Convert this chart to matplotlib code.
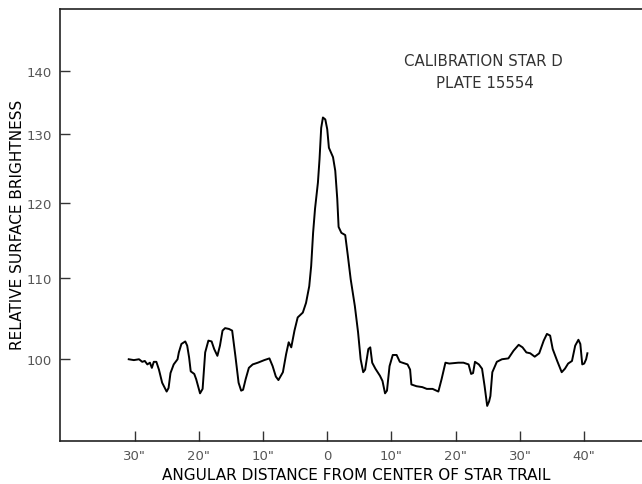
import matplotlib
matplotlib.use("Agg")
import matplotlib.pyplot as plt
from matplotlib.ticker import FixedLocator, NullLocator, FixedFormatter

# scan across the star trail: offset (arcsec, negative = left side) and brightness
offset = [-30.9, -30.1, -29.3, -28.8, -28.4, -28.0, -27.6, -27.3, -27.0, -26.6,
          -26.2, -25.7, -25.0, -24.7, -24.4, -23.9, -23.3, -23.1, -22.7, -22.1,
          -21.8, -21.5, -21.25, -20.7, -20.4, -19.8, -19.4, -19.0, -18.5, -18.0,
          -17.6, -17.1, -16.7, -16.3, -15.9, -15.3, -14.8, -14.3, -13.8, -13.4,
          -13.1, -12.7, -12.2, -11.6, -10.8, -9.8, -9.0, -8.5, -8.0, -7.6,
          -6.9, -6.4, -6.0, -5.6, -5.1, -4.6, -3.8, -3.3, -2.8, -2.5,
          -2.2, -1.9, -1.45, -1.2, -0.94, -0.67, -0.3, 0.0, 0.26, 0.9,
          1.25, 1.56, 1.77, 2.2, 2.8, 3.2, 3.65, 4.3, 4.8, 5.2,
          5.6, 5.9, 6.4, 6.7, 7.0, 7.5, 8.2, 8.6, 9.0, 9.3,
          9.7, 10.2, 10.8, 11.3, 12.5, 12.9, 13.1, 13.9, 14.8, 15.5,
          16.4, 17.3, 17.8, 18.4, 19.0, 20.4, 21.2, 22.0, 22.4, 22.7,
          23.0, 23.6, 24.1, 24.5, 24.9, 25.2, 25.4, 25.7, 26.4, 27.2,
          28.2, 29.0, 29.8, 30.4, 31.0, 31.6, 32.3, 33.0, 33.7, 34.2,
          34.7, 35.1, 35.8, 36.5, 37.0, 37.5, 38.1, 38.6, 39.1, 39.4,
          39.7, 40.0, 40.3, 40.5]
brightness = [100.0, 99.9, 100.0, 99.7, 99.8, 99.4, 99.6, 99.0, 99.7, 99.7,
              98.8, 97.3, 96.3, 96.7, 98.4, 99.4, 100.0, 100.8, 101.8, 102.1,
              101.6, 100.2, 98.6, 98.3, 97.7, 96.1, 96.6, 100.8, 102.2, 102.1,
              101.2, 100.4, 101.6, 103.4, 103.7, 103.6, 103.4, 100.4, 97.3, 96.4,
              96.5, 97.7, 99.0, 99.4, 99.6, 99.9, 100.1, 99.2, 98.0, 97.6,
              98.5, 100.6, 102.0, 101.4, 103.4, 105.0, 105.6, 106.8, 108.9, 111.5,
              115.9, 119.2, 122.9, 126.3, 131.0, 132.6, 132.3, 130.8, 128.0, 126.6,
              124.6, 120.6, 116.7, 115.9, 115.6, 112.9, 109.8, 106.4, 103.2, 100.0,
              98.5, 98.8, 101.2, 101.4, 99.6, 98.9, 98.1, 97.5, 96.1, 96.4,
              99.2, 100.5, 100.5, 99.7, 99.4, 98.8, 97.1, 96.9, 96.8, 96.6,
              96.6, 96.3, 97.7, 99.6, 99.5, 99.6, 99.6, 99.4, 98.3, 98.4,
              99.7, 99.4, 98.9, 96.9, 94.7, 95.2, 95.8, 98.5, 99.7, 100.0,
              100.1, 101.0, 101.7, 101.4, 100.8, 100.7, 100.3, 100.7, 102.2, 103.0,
              102.8, 101.2, 99.8, 98.5, 98.9, 99.5, 99.8, 101.6, 102.3, 101.8,
              99.4, 99.5, 100.0, 100.7]

x_ticks = [-30, -20, -10, 0, 10, 20, 30, 40]
x_tick_labels = ['30"', '20"', '10"', '0', '10"', '20"', '30"', '40"']
y_ticks = [100, 110, 120, 130, 140]
y_tick_labels = ['100', '110', '120', '130', '140']

plt.rcParams['font.family'] = ['DejaVu Sans']

fig = plt.figure(figsize=(6.42, 4.85), dpi=100)
ax = fig.add_axes([60 / 642, 43 / 485, 582 / 642, 432 / 485])

ax.plot(offset, brightness, color='black', lw=1.4)

ax.set_yscale('log')
ax.set_xlim(-41.6, 49.0)
ax.set_ylim(90.9, 150.5)

ax.yaxis.set_major_locator(FixedLocator(y_ticks))
ax.yaxis.set_major_formatter(FixedFormatter(y_tick_labels))
ax.yaxis.set_minor_locator(NullLocator())
ax.xaxis.set_major_locator(FixedLocator(x_ticks))
ax.xaxis.set_major_formatter(FixedFormatter(x_tick_labels))
# longer mark at the trail centre
ax.xaxis.set_minor_locator(FixedLocator([0]))

ax.tick_params(axis='both', which='major', direction='in', length=7, width=1.0,
               labelsize=9.5, labelcolor='#555555', color='#333333')
ax.tick_params(axis='x', which='major', pad=6)
ax.tick_params(axis='y', which='major', pad=6)
ax.tick_params(axis='x', which='minor', direction='in', length=11, width=1.0,
               color='#333333')

for side in ['left', 'bottom', 'top']:
    ax.spines[side].set_linewidth(1.2)
    ax.spines[side].set_color('#222222')
ax.spines['right'].set_visible(False)

ax.set_xlabel('ANGULAR DISTANCE FROM CENTER OF STAR TRAIL', fontsize=11)
ax.set_ylabel('RELATIVE SURFACE BRIGHTNESS', fontsize=11)
ax.xaxis.set_label_coords((356 - 60) / 582, -(468 - 442) / 432)
ax.yaxis.set_label_coords(-(60 - 25) / 582, (442 - 225) / 432)

fig.text(483 / 642, 1 - 62 / 485, 'CALIBRATION STAR D', fontsize=10.8,
         color='#333333', ha='center', va='center')
fig.text(485 / 642, 1 - 83 / 485, 'PLATE 15554', fontsize=10.8,
         color='#333333', ha='center', va='center')

fig.savefig('out.png', dpi=100)
